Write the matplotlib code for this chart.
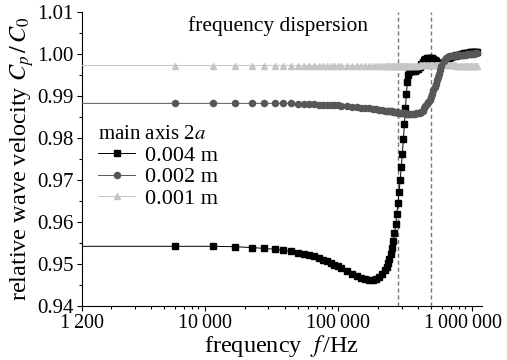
import numpy as np
import matplotlib
matplotlib.use('Agg')
import matplotlib.pyplot as plt
from matplotlib.ticker import LogLocator, MultipleLocator, NullFormatter, FormatStrFormatter
from matplotlib.transforms import ScaledTranslation

plt.rcParams['font.family'] = ['Liberation Serif', 'DejaVu Serif']
plt.rcParams['mathtext.fontset'] = 'stix'
plt.rcParams['font.size'] = 15

# frequency grid (Hz), shared by the three curves
freq = [500, 6000, 11500, 17000, 22500, 28000, 33500, 39000, 44500, 50000,
        55500, 61000, 66500, 72000, 77500, 83000, 88500, 94000, 99500, 105000,
        116000, 127000, 138000, 149000, 160000, 171000, 182000, 193000, 204000,
        215000, 226000,
        231500, 237000, 242500, 248000, 253500, 259000, 264500, 270000, 275500,
        281000, 286500, 292000, 297500, 303000, 308500, 314000, 319500, 325000,
        330500, 336000, 341500,
        352500, 363500, 374500, 385500, 396500, 407500, 418500, 429500, 440500,
        451500, 462500, 473500, 484500, 495500, 506500, 517500, 528500, 539500,
        550500, 561500, 572500, 583500, 594500,
        616500, 638500, 660500, 682500, 704500, 726500, 748500, 770500, 792500,
        814500, 836500, 858500, 880500, 902500, 924500, 946500, 968500, 990500,
        1012500, 1034500, 1056500, 1078500, 1100500]

# 2a = 0.004 m
v_004 = [0.9542, 0.9542, 0.9542, 0.9541, 0.9539, 0.9537, 0.9535, 0.9533, 0.9530, 0.9527,
         0.9524, 0.9521, 0.9518, 0.9514, 0.9510, 0.9506, 0.9502, 0.9498, 0.9494, 0.9490,
         0.9483, 0.9477, 0.9471, 0.9467, 0.9464, 0.9462, 0.9462, 0.9464, 0.9468,
         0.9475, 0.9486,
         0.9493, 0.9502, 0.9512, 0.9524, 0.9538, 0.9554, 0.9573, 0.9595, 0.9620,
         0.9645, 0.9672, 0.9700, 0.9730, 0.9762, 0.9797, 0.9833, 0.9870, 0.9905,
         0.9932, 0.9950, 0.9957,
         0.9958, 0.9959, 0.9960, 0.9961, 0.9964, 0.9969, 0.9975, 0.9980, 0.9984,
         0.9987, 0.9989, 0.9990, 0.9991, 0.9991, 0.9990, 0.9988, 0.9985, 0.9982,
         0.9979, 0.9977, 0.9976, 0.9976, 0.9977,
         0.9980, 0.9985, 0.9989, 0.9991, 0.9993, 0.9994, 0.9995, 0.9996, 0.9997,
         0.9998, 0.9999, 1.0000, 1.0001, 1.0001, 1.0002, 1.0002, 1.0003, 1.0003,
         1.0004, 1.0004, 1.0004, 1.0005, 1.0005]

# 2a = 0.002 m
v_002 = [0.9882, 0.9882, 0.9882, 0.9882, 0.9882, 0.9882, 0.9882, 0.9882, 0.9882, 0.9881,
         0.9881, 0.9880, 0.9880, 0.9879, 0.9879, 0.9878, 0.9878, 0.9877, 0.9877, 0.9876,
         0.9875, 0.9874, 0.9873, 0.9872, 0.9871, 0.9870, 0.9869, 0.9868, 0.9867,
         0.9866, 0.9865,
         0.9865, 0.9864, 0.9864, 0.9863, 0.9863, 0.9862, 0.9862, 0.9861, 0.9861,
         0.9860, 0.9860, 0.9859, 0.9859, 0.9859, 0.9858, 0.9858, 0.9858, 0.9857,
         0.9857, 0.9857, 0.9857,
         0.9857, 0.9857, 0.9857, 0.9858, 0.9858, 0.9859, 0.9861, 0.9865, 0.9870,
         0.9875, 0.9880, 0.9885, 0.9891, 0.9898, 0.9905, 0.9913, 0.9921, 0.9929,
         0.9937, 0.9945, 0.9953, 0.9962, 0.9970,
         0.9982, 0.9990, 0.9993, 0.9994, 0.9994, 0.9995, 0.9995, 0.9996, 0.9996,
         0.9997, 0.9997, 0.9998, 0.9998, 0.9998, 0.9999, 0.9999, 0.9999, 1.0000,
         1.0000, 1.0000, 1.0001, 1.0001, 1.0001]

# 2a = 0.001 m
v_001 = [0.9972, 0.9972, 0.9972, 0.9972, 0.9972, 0.9972, 0.9972, 0.9972, 0.9972, 0.9972,
         0.9972, 0.9972, 0.9972, 0.9972, 0.9972, 0.9972, 0.9972, 0.9972, 0.9972, 0.9972,
         0.9972, 0.9972, 0.9972, 0.9972, 0.9972, 0.9972, 0.9972, 0.9972, 0.9972,
         0.9972, 0.9972,
         0.9972, 0.9972, 0.9972, 0.9972, 0.9972, 0.9972, 0.9972, 0.9972, 0.9972,
         0.9972, 0.9972, 0.9972, 0.9972, 0.9972, 0.9972, 0.9972, 0.9972, 0.9972,
         0.9972, 0.9972, 0.9972,
         0.9972, 0.9972, 0.9972, 0.9972, 0.9972, 0.9973, 0.9973, 0.9973, 0.9973,
         0.9973, 0.9973, 0.9973, 0.9973, 0.9973, 0.9973, 0.9973, 0.9973, 0.9973,
         0.9973, 0.9973, 0.9973, 0.9973, 0.9973,
         0.9973, 0.9973, 0.9973, 0.9973, 0.9973, 0.9973, 0.9973, 0.9972, 0.9972,
         0.9972, 0.9972, 0.9972, 0.9972, 0.9972, 0.9972, 0.9971, 0.9971, 0.9971,
         0.9971, 0.9971, 0.9970, 0.9970, 0.9970]

labels = ['0.004 m', '0.002 m', '0.001 m']
cutoff_freq = [2.8e5, 5.0e5]
xtick_pos = [1200, 1e4, 1e5, 1e6]
xtick_txt = ['1$\\;$200', '10$\\;$000', '100$\\;$000', '1$\\;$000$\\;$000']

fig = plt.figure(figsize=(5.07, 3.6), dpi=100)
ax = fig.add_axes([0.161, 0.15, 0.79, 0.8175])

ax.plot(freq, v_004, '-s', color='black', lw=0.7, ms=4.0, label=labels[0], zorder=3)
ax.plot(freq, v_001, '-^', color='#c6c6c6', mec='#c6c6c6', lw=0.7, ms=4.6, label=labels[2], zorder=4)
ax.plot(freq, v_002, '-o', color='#575757', mec='#575757', lw=0.7, ms=4.4, label=labels[1], zorder=5)

for fc in cutoff_freq:
    ax.axvline(fc, color='#777777', lw=1.0, ls=(0, (3, 2)), zorder=2)

ax.set_xscale('log')
ax.set_xlim(1200, 1.2e6)
ax.set_ylim(0.94, 1.01)

ax.set_xticks(xtick_pos)
ax.set_xticklabels(xtick_txt, fontsize=14.5)
ax.xaxis.set_minor_locator(LogLocator(base=10, subs=np.arange(2, 10)))
ax.xaxis.set_minor_formatter(NullFormatter())
ax.yaxis.set_major_locator(MultipleLocator(0.01))
ax.yaxis.set_minor_locator(MultipleLocator(0.005))
ax.yaxis.set_major_formatter(FormatStrFormatter('%.2f'))

ax.tick_params(which='major', direction='out', length=3.5, width=0.8, pad=2)
ax.tick_params(which='minor', direction='out', length=2.0, width=0.8)
ax.spines['top'].set_visible(False)
ax.spines['right'].set_visible(False)

# last label sits a little inward, as in the original
xl = ax.get_xticklabels()
xl[-1].set_transform(xl[-1].get_transform() + ScaledTranslation(-6 / 72, 0, fig.dpi_scale_trans))

ax.set_xlabel('frequency  $f\\,$/Hz', fontsize=17.5, labelpad=0)
ax.set_ylabel('relative wave velocity $C_p\\,/\\,C_0$', fontsize=17.5, labelpad=1)

ax.text(0.49, 0.95, 'frequency dispersion', transform=ax.transAxes,
        ha='center', va='center', fontsize=15.5)

h, l = ax.get_legend_handles_labels()
order = [0, 2, 1]
ax.legend([h[i] for i in order], [l[i] for i in order], title='main axis 2$a$',
          loc='upper left', bbox_to_anchor=(0.04, 0.615), frameon=False,
          borderpad=0, borderaxespad=0, handlelength=1.7, handletextpad=0.45,
          labelspacing=0.05, alignment='left', fontsize=16, title_fontsize=15)

fig.savefig('out.png', dpi=100)
